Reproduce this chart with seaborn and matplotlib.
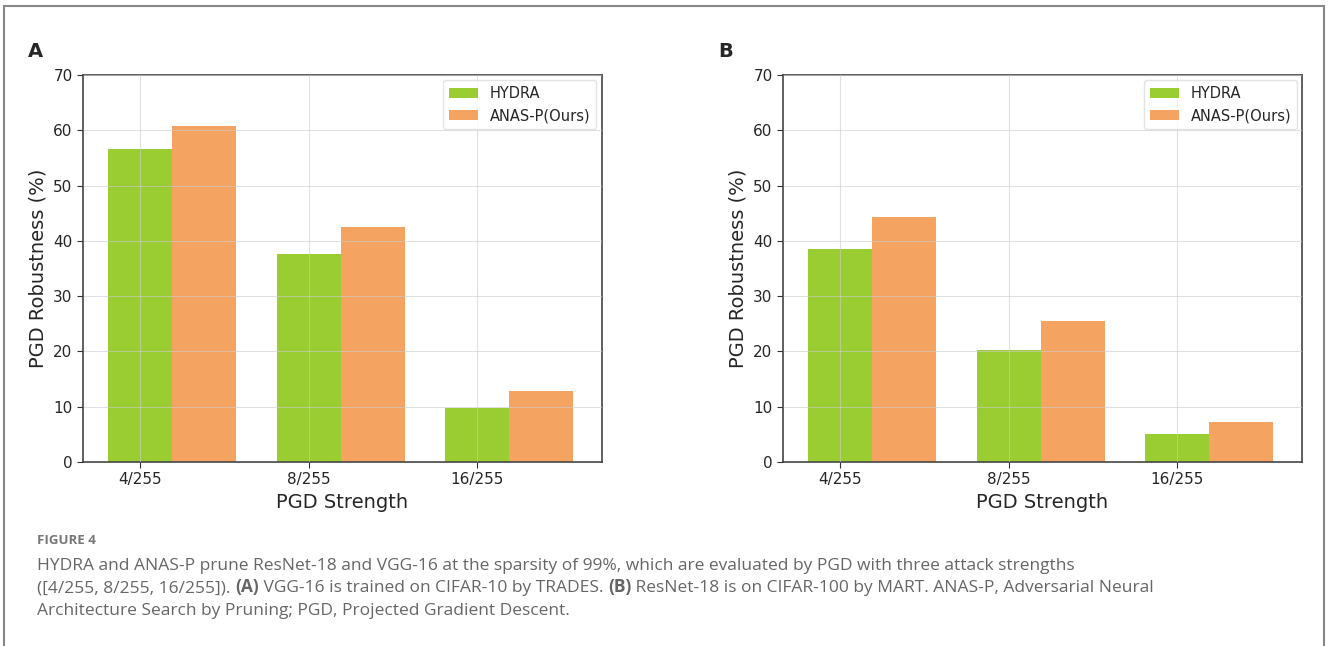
import pandas as pd
import matplotlib.pyplot as plt
import matplotlib.patches as mpatches
import seaborn as sb

strengths = ["4/255", "8/255", "16/255"]
methods = ["HYDRA", "ANAS-P(Ours)"]
hydra_a = [56.6, 37.7, 9.8]
anas_a = [60.7, 42.5, 12.8]
hydra_b = [38.5, 20.3, 5.1]
anas_b = [44.3, 25.5, 7.3]
colors = ["#9ACD32", "#F4A460"]

sb.set_style("white")
plt.rcParams["font.family"] = ["DejaVu Sans"]

fig = plt.figure(figsize=(13.28, 6.46), dpi=100)
ax_a = fig.add_axes([0.0625, 0.2848, 0.3905, 0.5991])
ax_b = fig.add_axes([0.5896, 0.2848, 0.3908, 0.5991])


def panel(ax, hydra, anas, letter, x_letter):
    df = pd.DataFrame({
        "strength": strengths * 2,
        "method": [methods[0]] * 3 + [methods[1]] * 3,
        "value": hydra + anas,
    })
    sb.barplot(data=df, x="strength", y="value", hue="method", hue_order=methods,
               palette=colors, width=0.76, saturation=1, ax=ax, errorbar=None,
               linewidth=0)
    ax.set_ylim(0, 70)
    ax.set_yticks(range(0, 71, 10))
    ax.set_xticks([i - 0.19 for i in range(3)])
    ax.set_xticklabels(strengths)
    ax.set_xlim(-0.53, 2.55)
    ax.grid(True, color="#cccccc", lw=0.8, alpha=0.6)
    ax.set_axisbelow(False)
    ax.tick_params(axis="both", labelsize=11, length=4, color="#333333", left=True, bottom=True)
    for s in ax.spines.values():
        s.set_color("#444444")
        s.set_linewidth(1.2)
    ax.set_xlabel("PGD Strength", fontsize=14)
    ax.set_ylabel("PGD Robustness (%)", fontsize=14)
    leg = ax.legend(loc="upper right", fontsize=10.5, frameon=True, borderpad=0.4,
                    borderaxespad=0.35, handlelength=2.0, handletextpad=0.8)
    leg.get_frame().set_edgecolor("#dddddd")
    fig.text(x_letter, 0.905, letter, fontsize=14, fontweight="bold", va="bottom")


panel(ax_a, hydra_a, anas_a, "A", 0.021)
panel(ax_b, hydra_b, anas_b, "B", 0.541)

# frame around the figure
fig.patches.append(mpatches.Rectangle((0.003, -0.05), 0.994, 1.04, transform=fig.transFigure,
                                      fill=False, edgecolor="#888888", lw=1.5))

cap = "#666666"
fig.text(0.028, 0.158, "FIGURE 4", fontsize=9.5, color="#777777", family="Open Sans",
         fontweight="bold")
fig.text(0.028, 0.118, "HYDRA and ANAS-P prune ResNet-18 and VGG-16 at the sparsity of 99%, which are "
         "evaluated by PGD with three attack strengths", fontsize=12.5, color=cap, family="Open Sans")

# second line has bold pieces, place them one after another
renderer = fig.canvas.get_renderer()
pieces = [("([4/255, 8/255, 16/255]). ", "normal"), ("(A)", "bold"),
          (" VGG-16 is trained on CIFAR-10 by TRADES. ", "normal"), ("(B)", "bold"),
          (" ResNet-18 is on CIFAR-100 by MART. ANAS-P, Adversarial Neural", "normal")]
x = 0.028
for txt, wt in pieces:
    t = fig.text(x, 0.083, txt, fontsize=12.5, color=cap, family="Open Sans", fontweight=wt)
    bb = t.get_window_extent(renderer)
    x += bb.width / fig.bbox.width
fig.text(0.028, 0.048, "Architecture Search by Pruning; PGD, Projected Gradient Descent.",
         fontsize=12.5, color=cap, family="Open Sans")

fig.savefig("out.png", dpi=100)
